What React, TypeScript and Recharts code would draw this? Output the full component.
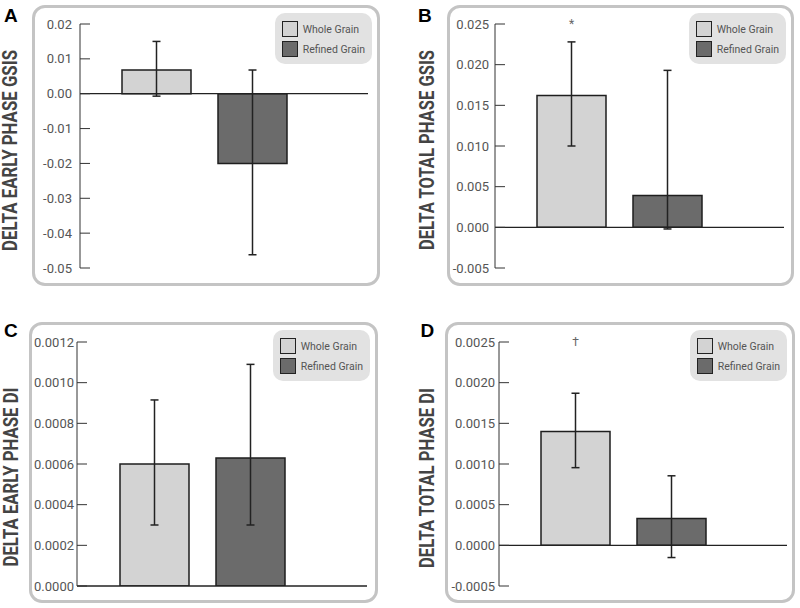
import React from 'react';
import { BarChart, Bar, XAxis, YAxis, ErrorBar, ReferenceLine, Legend } from 'recharts';

const groups = ['Whole Grain', 'Refined Grain'];
const groupFills = ['#d3d3d3', '#6b6b6b'];

// [down, up] error lengths
const earlyGsisMeans = [0.0068, -0.02];
const earlyGsisErrors = [[0.0075, 0.0082], [0.0262, 0.0268]];
const earlyGsisTicks = [-0.05, -0.04, -0.03, -0.02, -0.01, 0, 0.01, 0.02];

const totalGsisMeans = [0.0162, 0.0039];
const totalGsisErrors = [[0.0062, 0.0066], [0.0041, 0.0154]];
const totalGsisTicks = [-0.005, 0, 0.005, 0.01, 0.015, 0.02, 0.025];
const totalGsisMarks = ['*', ''];

const earlyDiMeans = [0.0006, 0.00063];
const earlyDiErrors = [[0.0003, 0.000315], [0.00033, 0.00046]];
const earlyDiTicks = [0, 0.0002, 0.0004, 0.0006, 0.0008, 0.001, 0.0012];

const totalDiMeans = [0.0014, 0.00033];
const totalDiErrors = [[0.000445, 0.00047], [0.00048, 0.000525]];
const totalDiTicks = [-0.0005, 0, 0.0005, 0.001, 0.0015, 0.002, 0.0025];
const totalDiMarks = ['\u2020', ''];

const makeRow = (means: number[], errors: number[][]) => ({
  name: 'delta',
  whole: means[0],
  wholeErr: errors[0],
  refined: means[1],
  refinedErr: errors[1],
});

const markLabel = (mark: string, top: number) => (props: any) => {
  if (!mark) return null;
  const vb = props.viewBox || {};
  const x = props.x ?? vb.x;
  const y = props.y ?? vb.y;
  const w = props.width ?? vb.width;
  const h = props.height ?? vb.height;
  const v = Number(props.value);
  if (!v || !h) return null;
  const base = y + h;
  const my = base - top * (h / v);
  return (
    <text x={x + w / 2} y={my} textAnchor="middle" dominantBaseline="central"
      fontSize={12} fill="#666" fontFamily="Roboto">{mark}</text>
  );
};

const LegendBox = (props: any) => {
  const raw = props.payload && props.payload.length ? props.payload : groups.map((g, i) => ({ value: g, color: groupFills[i] }));
  const items = [...raw].sort((a: any, b: any) => groups.indexOf(a.value) - groups.indexOf(b.value));
  return (
    <div style={{ background: '#e2e2e2', borderRadius: 10, padding: '6px 7px 5px 7px', fontFamily: 'Roboto' }}>
      {items.map((it: any, i: number) => (
        <div key={i} style={{ display: 'flex', alignItems: 'center', height: 20 }}>
          <div style={{ width: 16, height: 16, boxSizing: 'border-box', border: '1.5px solid #222', background: it.color }} />
          <span style={{ marginLeft: 5, fontSize: 10.5, color: '#555', whiteSpace: 'nowrap' }}>{it.value}</span>
        </div>
      ))}
    </div>
  );
};

type PanelProps = {
  left: number; top: number; width: number; height: number;
  axisWidth: number; gap: number; margin: { top: number; right: number; bottom: number };
  means: number[]; errors: number[][]; ticks: number[]; decimals: number; marks?: string[];
};

const Panel = ({ left, top, width, height, axisWidth, gap, margin, means, errors, ticks, decimals, marks }: PanelProps) => {
  const data = [makeRow(means, errors)];
  const lo = ticks[0];
  const hi = ticks[ticks.length - 1];
  return (
    <div style={{ position: 'absolute', left, top, width, height }}>
      <div style={{ position: 'absolute', inset: 0, border: '3px solid #c4c4c4', borderRadius: 13, boxSizing: 'border-box', background: '#fff' }} />
      <div style={{ position: 'absolute', left: 0, top: 0 }}>
        <BarChart width={width} height={height} data={data} barSize={69} barGap={27}
          margin={{ top: margin.top, right: margin.right, bottom: margin.bottom, left: 0 }}>
          <XAxis dataKey="name" hide padding={{ left: 0, right: 40 }} />
          <YAxis type="number" domain={[lo, hi]} ticks={ticks} interval={0} width={axisWidth}
            tickSize={-10} tickMargin={10 + gap} allowDataOverflow
            axisLine={{ stroke: '#333' }} tickLine={{ stroke: '#333' }}
            tick={{ fill: '#555', fontSize: 13, fontFamily: 'Roboto' }}
            tickFormatter={(v: number) => v.toFixed(decimals)} />
          <ReferenceLine y={0} stroke="#222" strokeWidth={1.3} />
          <Legend layout="horizontal" verticalAlign="middle" align="center"
            wrapperStyle={{ top: 8, right: 8, left: 'auto', width: 'auto', height: 'auto' }}
            content={<LegendBox />} />
          <Bar dataKey="whole" name={groups[0]} fill={groupFills[0]} stroke="#1e1e1e" strokeWidth={1.5}
            isAnimationActive={false} label={marks ? markLabel(marks[0], hi) : undefined}>
            <ErrorBar dataKey="wholeErr" width={4} stroke="#222" strokeWidth={1.5} direction="y" />
          </Bar>
          <Bar dataKey="refined" name={groups[1]} fill={groupFills[1]} stroke="#1e1e1e" strokeWidth={1.5}
            isAnimationActive={false}>
            <ErrorBar dataKey="refinedErr" width={4} stroke="#222" strokeWidth={1.5} direction="y" />
          </Bar>
        </BarChart>
      </div>
    </div>
  );
};

const AxisTitle = ({ x, y, len, text }: { x: number; y: number; len: number; text: string }) => (
  <text x={x} y={y} transform={`rotate(-90 ${x} ${y})`} textAnchor="middle" fontFamily="Roboto"
    fontWeight="bold" fontSize={19.5} fill="#444" textLength={len} lengthAdjust="spacingAndGlyphs">{text}</text>
);

const Letter = ({ x, y, text }: { x: number; y: number; text: string }) => (
  <text x={x} y={y} fontFamily="Liberation Sans" fontWeight="bold" fontSize={19} fill="#000">{text}</text>
);

export default function App() {
  return (
    <div style={{ position: 'absolute', left: 0, top: 0, width: 800, height: 608, background: '#fff' }}>
      <svg width={800} height={608} style={{ position: 'absolute', left: 0, top: 0 }}>
        <Letter x={4} y={21.5} text="A" />
        <Letter x={418} y={21.5} text="B" />
        <Letter x={4} y={336.5} text="C" />
        <Letter x={420.5} y={336.5} text="D" />
        <AxisTitle x={17.3} y={150.5} len={201} text="DELTA EARLY PHASE GSIS" />
        <AxisTitle x={433.5} y={150} len={200} text="DELTA TOTAL PHASE GSIS" />
        <AxisTitle x={18} y={477} len={179} text="DELTA EARLY PHASE DI" />
        <AxisTitle x={434} y={478} len={180} text="DELTA TOTAL PHASE DI" />
      </svg>
      <Panel left={32} top={5} width={348} height={281} axisWidth={48} gap={8}
        margin={{ top: 19, right: 12, bottom: 18 }}
        means={earlyGsisMeans} errors={earlyGsisErrors} ticks={earlyGsisTicks} decimals={2} />
      <Panel left={447} top={5} width={347} height={281} axisWidth={48} gap={6}
        margin={{ top: 19, right: 10, bottom: 18 }}
        means={totalGsisMeans} errors={totalGsisErrors} ticks={totalGsisTicks} decimals={3} marks={totalGsisMarks} />
      <Panel left={29} top={322} width={349} height={281} axisWidth={48} gap={3}
        margin={{ top: 20, right: 11, bottom: 17 }}
        means={earlyDiMeans} errors={earlyDiErrors} ticks={earlyDiTicks} decimals={4} />
      <Panel left={445} top={322} width={350} height={281} axisWidth={54} gap={4}
        margin={{ top: 20, right: 8, bottom: 17 }}
        means={totalDiMeans} errors={totalDiErrors} ticks={totalDiTicks} decimals={4} marks={totalDiMarks} />
    </div>
  );
}
